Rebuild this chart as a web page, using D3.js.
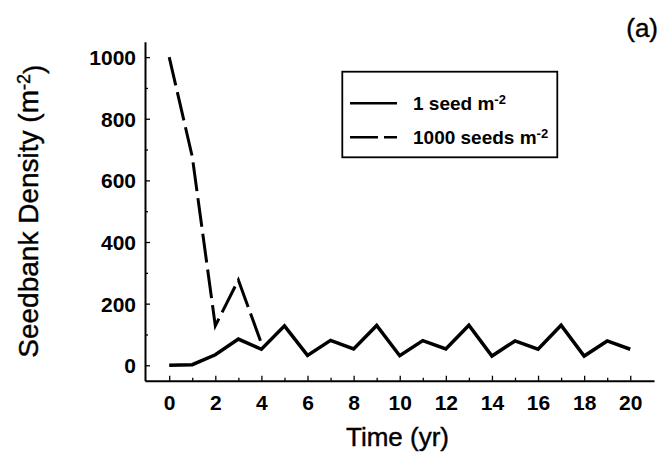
<!DOCTYPE html>
<html>
<head>
<meta charset="utf-8">
<script src="https://cdn.jsdelivr.net/npm/d3@7"></script>
<style>
  body { margin: 0; background: #fff; }
  svg { font-family: "Liberation Sans", Arial, Helvetica, sans-serif; }
</style>
</head>
<body>
<div id="chart"></div>
<script>
// Years on the x axis
var years = [0, 1, 2, 3, 4, 5, 6, 7, 8, 9, 10, 11, 12, 13, 14, 15, 16, 17, 18, 19, 20];

// Seedbank starting from 1 seed per m2 (solid line)
var oneSeed = [0, 2, 34, 85, 52, 128, 32, 81, 53, 129, 31, 80, 53, 130, 30, 79, 52, 130, 30, 79, 52];

// Seedbank starting from 1000 seeds per m2 (dashed line), only the first years
var thousandYears = [0, 1, 2, 3, 4];
var thousandSeeds = [1000, 677, 128, 277, 71];

// Tick labels
var xTicks = [0, 2, 4, 6, 8, 10, 12, 14, 16, 18, 20];
var yTicks = [0, 200, 400, 600, 800, 1000];

var width = 659, height = 459;
var margin = {top: 41.7, right: 5, bottom: 78.3, left: 145};

var svg = d3.select("#chart").append("svg")
    .attr("width", width)
    .attr("height", height);

// Scales
var x = d3.scaleLinear()
    .domain([-1.05, 21.03])
    .range([margin.left, width - margin.right]);

var y = d3.scaleLinear()
    .domain([-50, 1050])
    .range([height - margin.bottom, margin.top]);

// X axis: major ticks on even years, small ones on odd years, pointing up
var xAxis = svg.append("g")
    .attr("transform", "translate(0," + (height - margin.bottom) + ")")
    .call(d3.axisBottom(x).tickValues(xTicks).tickSize(-5).tickPadding(14).tickSizeOuter(0).tickFormat(d3.format("d")));

svg.append("g")
    .attr("transform", "translate(0," + (height - margin.bottom) + ")")
    .call(d3.axisBottom(x).tickValues(d3.range(1, 21, 2)).tickSize(-3).tickFormat("").tickSizeOuter(0))
    .select(".domain").remove();

// Y axis: labels every 200, small ticks every 100, pointing right
var yAxis = svg.append("g")
    .attr("transform", "translate(" + margin.left + ",0)")
    .call(d3.axisLeft(y).tickValues(yTicks).tickSize(-5).tickPadding(9).tickSizeOuter(0).tickFormat(d3.format("d")));

svg.append("g")
    .attr("transform", "translate(" + margin.left + ",0)")
    .call(d3.axisLeft(y).tickValues([100, 300, 500, 700, 900]).tickSize(-3).tickFormat("").tickSizeOuter(0))
    .select(".domain").remove();

svg.selectAll(".domain").attr("stroke-width", 2);
svg.selectAll(".tick line").attr("stroke-width", 1.3);

xAxis.selectAll("text")
    .style("font-size", "21px")
    .style("font-weight", "bold")
    .attr("fill", "#000");

yAxis.selectAll("text")
    .style("font-size", "21px")
    .style("font-weight", "bold")
    .attr("dy", "0.36em")
    .attr("fill", "#000");

// Line generator
var line = d3.line()
    .x(function(d) { return x(d[0]); })
    .y(function(d) { return y(d[1]); });

svg.append("path")
    .datum(d3.zip(years, oneSeed))
    .attr("d", line)
    .attr("fill", "none")
    .attr("stroke", "#000")
    .attr("stroke-width", 3.5)
    .attr("stroke-linejoin", "miter");

svg.append("path")
    .datum(d3.zip(thousandYears, thousandSeeds))
    .attr("d", line)
    .attr("fill", "none")
    .attr("stroke", "#000")
    .attr("stroke-width", 3)
    .attr("stroke-dasharray", "29,7");

// Axis titles
svg.append("text")
    .attr("x", (margin.left + width - margin.right) / 2 - 2)
    .attr("y", 446)
    .attr("text-anchor", "middle")
    .attr("stroke", "#000")
    .attr("stroke-width", 0.4)
    .style("font-size", "26px")
    .text("Time (yr)");

var yTitle = svg.append("text")
    .attr("transform", "translate(38," + (margin.top + (height - margin.bottom - margin.top) / 2) + ") rotate(-90)")
    .attr("text-anchor", "middle")
    .attr("stroke", "#000")
    .attr("stroke-width", 0.4)
    .style("font-size", "28px");
yTitle.append("tspan").text("Seedbank Density (m");
yTitle.append("tspan").attr("dy", "-0.45em").style("font-size", "18px").text("-2");
yTitle.append("tspan").attr("dy", "0.45em").text(")");

// Panel letter
svg.append("text")
    .attr("x", 658)
    .attr("y", 37)
    .attr("text-anchor", "end")
    .attr("stroke", "#000")
    .attr("stroke-width", 0.4)
    .style("font-size", "26px")
    .text("(a)");

// Legend box
var legend = svg.append("g");

legend.append("rect")
    .attr("x", 342.3)
    .attr("y", 71.7)
    .attr("width", 215)
    .attr("height", 85.6)
    .attr("fill", "#fff")
    .attr("stroke", "#000")
    .attr("stroke-width", 1.8);

var legendItems = [
    {label: "1 seed m", dash: null, y: 103.3},
    {label: "1000 seeds m", dash: "28,6", y: 137.3}
];

legendItems.forEach(function(d) {
    legend.append("line")
        .attr("x1", 350).attr("x2", 397)
        .attr("y1", d.y).attr("y2", d.y)
        .attr("stroke", "#000")
        .attr("stroke-width", 2.5)
        .attr("stroke-dasharray", d.dash);

    var t = legend.append("text")
        .attr("x", 413)
        .attr("y", d.y + 7)
        .style("font-size", "19px")
        .style("font-weight", "bold");
    t.append("tspan").text(d.label);
    t.append("tspan").attr("dy", "-0.5em").style("font-size", "13px").text("-2");
});
</script>
</body>
</html>
